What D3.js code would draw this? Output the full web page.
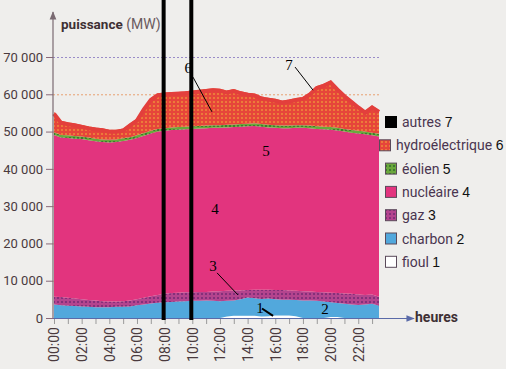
<!DOCTYPE html>
<html>
<head>
<meta charset="utf-8">
<script src="https://cdn.jsdelivr.net/npm/d3@7"></script>
<style>
  body { margin: 0; background: #efeeec; }
  svg { display: block; font-family: Roboto, sans-serif; }
</style>
</head>
<body>
<svg></svg>
<script>
// half-hour steps, 00:00 -> 23:30
var hours = d3.range(0, 24, 0.5);

// MW per source
var fioul = [0,0,0,0,0,0,0,0,0,0, 0,0,0,0,0,0,0,0,0,0, 0,0,0,0,0,400,600,600,600,600,
  400,500,700,700,700,500,0,0,0,0, 300,300,0,0,0,0,0,0];
var charbon = [3600,3400,3300,3200,3100,3000,2900,2900,2900,3000, 3000,3100,3400,3600,3900,4100,4200,4300,4400,4500,
  4600,4600,4700,4600,4500,4200,4100,4400,4900,4700, 4700,4700,4300,4200,4200,4300,4700,4700,4600,4400,
  3900,3700,3800,3600,3500,3600,3800,3300];
var gaz = [2100,2200,2100,2000,1900,1800,1800,1600,1500,1400, 1500,1600,1600,1800,1900,2100,2300,2400,2400,2400,
  2300,2400,2300,2500,2700,2700,2700,2400,2000,2300, 2500,2400,2500,2600,2500,2500,2500,2400,2400,2500,
  2600,2700,2800,2900,2800,2600,2500,2400];
var nucleaire = [43400,42800,42900,42900,43000,42900,42700,42700,42700,42800, 43000,43100,43300,43500,43700,43800,43700,43700,43700,43700,
  43800,43800,43900,43900,43800,43800,43800,43900,43900,43900, 43700,43500,43500,43400,43500,43700,43800,43800,43700,43700,
  43700,43600,43400,43200,43200,43100,42700,43000];
var eolien = [700,700,700,700,700,700,700,700,700,700, 700,700,700,700,700,700,700,700,700,700,
  700,700,700,700,700,700,700,700,700,700, 700,700,700,700,700,700,700,700,700,700,
  700,700,700,700,700,700,700,700];
var hydro = [5500,3800,3500,3400,3100,3000,3000,3000,2700,2600, 2600,3700,4500,6900,8800,9600,9600,9500,9500,9500,
  9600,9700,9800,9900,9800,9200,9500,8800,8300,8000, 7400,7300,7100,6700,7000,7300,7600,8900,10800,11500,
  12500,10800,9300,8100,6800,5600,7300,6400];
var autres = [0,0,0,0,0,0,0,0,0,0, 0,0,0,0,0,0,0,0,0,0, 0,0,0,0,0,0,0,0,0,0,
  0,0,0,0,0,0,0,0,0,0, 0,0,0,0,0,0,0,0];

var yTicks = [0, 10000, 20000, 30000, 40000, 50000, 60000, 70000];
var xTickLabels = ["00:00","02:00","04:00","06:00","08:00","10:00","12:00","14:00","16:00","18:00","20:00","22:00"];

var sources = [
  {key: 'fioul', label: 'fioul', num: 1, values: fioul, fill: '#ffffff'},
  {key: 'charbon', label: 'charbon', num: 2, values: charbon, fill: '#52a8dc'},
  {key: 'gaz', label: 'gaz', num: 3, values: gaz, fill: 'url(#pat-gaz)'},
  {key: 'nucleaire', label: 'nucléaire', num: 4, values: nucleaire, fill: '#e2347e'},
  {key: 'eolien', label: 'éolien', num: 5, values: eolien, fill: 'url(#pat-eol)'},
  {key: 'hydro', label: 'hydroélectrique', num: 6, values: hydro, fill: 'url(#pat-hydro)'},
  {key: 'autres', label: 'autres', num: 7, values: autres, fill: '#000000'}
];

var notes = [
  {t: '6', h: 9.7, v: 67000, line: [[10.05, 64600], [11.42, 55300]]},
  {t: '7', h: 17.0, v: 67800, line: [[17.43, 67300], [18.73, 61100]]},
  {t: '5', h: 15.33, v: 44800},
  {t: '4', h: 11.64, v: 29200},
  {t: '3', h: 11.5, v: 13900, line: [[11.79, 12100], [13.3, 6200]]},
  {t: '1', h: 14.9, v: 2800, line: [[15.04, 2550], [15.84, 550]], thick: true},
  {t: '2', h: 19.6, v: 2400}
];

var width = 506, height = 369;

var svg = d3.select('svg')
    .attr('width', width)
    .attr('height', height);

svg.append('rect')
    .attr('width', width).attr('height', height)
    .attr('fill', '#efeeec');

var defs = svg.append('defs');

function dotPattern(id, base, dot) {
  var p = defs.append('pattern')
      .attr('id', id)
      .attr('patternUnits', 'userSpaceOnUse')
      .attr('width', 4).attr('height', 4);
  p.append('rect').attr('width', 4).attr('height', 4).attr('fill', base);
  p.append('rect').attr('x', 1).attr('y', 1).attr('width', 2).attr('height', 2).attr('fill', dot);
}
dotPattern('pat-hydro', '#e6453a', '#ec7a3a');
dotPattern('pat-gaz', '#b4448e', '#84307a');
dotPattern('pat-eol', '#6aa83c', '#3f7a30');

var marker = defs.append('marker')
    .attr('id', 'arrow')
    .attr('viewBox', '0 0 10 10')
    .attr('refX', 9).attr('refY', 5)
    .attr('markerWidth', 7).attr('markerHeight', 7)
    .attr('orient', 'auto-start-reverse');
marker.append('path').attr('d', 'M0,1 L10,5 L0,9 z').attr('fill', 'context-stroke');

var xScale = d3.scaleLinear()
    .domain([0, 23.5])
    .range([54, 379]);

var yScale = d3.scaleLinear()
    .domain([0, 70000])
    .range([318, 57]);

// grid lines behind the areas
svg.append('g')
  .selectAll('line')
  .data(yTicks.slice(1))
  .enter().append('line')
    .attr('x1', 53).attr('x2', 380)
    .attr('y1', function(d) { return yScale(d) + 0.5; })
    .attr('y2', function(d) { return yScale(d) + 0.5; })
    .attr('stroke', function(d) { return d === 70000 ? '#9a8cc8' : '#e8a070'; })
    .attr('stroke-width', 1)
    .attr('stroke-dasharray', '2,2');

var table = hours.map(function(h, i) {
  var row = {h: h};
  sources.forEach(function(s) { row[s.key] = s.values[i]; });
  return row;
});

var stack = d3.stack().keys(sources.map(function(s) { return s.key; }));
var layers = stack(table);

var area = d3.area()
    .x(function(d) { return xScale(d.data.h); })
    .y0(function(d) { return yScale(d[0]); })
    .y1(function(d) { return yScale(d[1]); });

svg.append('g')
  .selectAll('path')
  .data(layers)
  .enter().append('path')
    .attr('d', area)
    .attr('fill', function(d, i) { return sources[i].fill; });

// solid red rim along the top of the hydro layer
var hydroLayer = layers[5];
svg.append('path')
    .attr('d', d3.line()
      .x(function(d) { return xScale(d.data.h); })
      .y(function(d) { return yScale(d[1]) + 2; })(hydroLayer))
    .attr('fill', 'none')
    .attr('stroke', '#e33f3c')
    .attr('stroke-width', 4);

// y axis
var yAxis = svg.append('g')
    .attr('transform', 'translate(53,0)')
    .call(d3.axisLeft(yScale)
      .tickValues(yTicks)
      .tickSize(7)
      .tickFormat(function(d) { return d3.format(',')(d).replace(',', ' '); }));
yAxis.select('.domain').remove();
yAxis.selectAll('line').attr('stroke', '#8a6a7a');
yAxis.selectAll('text')
    .attr('fill', '#4a3a3e')
    .style('font-size', '13px')
    .style('font-family', 'Roboto, sans-serif');

svg.append('line')
    .attr('x1', 53).attr('x2', 53)
    .attr('y1', 318).attr('y2', 12)
    .attr('stroke', '#7a6a72')
    .attr('stroke-width', 1.2)
    .attr('marker-end', 'url(#arrow)');

// x axis
var xAxis = svg.append('g')
    .attr('transform', 'translate(0,318)')
    .call(d3.axisBottom(xScale)
      .tickValues(d3.range(0, 24))
      .tickSize(6)
      .tickFormat(function(h) { return h % 2 ? '' : xTickLabels[h / 2]; }));
xAxis.select('.domain').remove();
xAxis.selectAll('line').attr('stroke', '#9a9a9a');
xAxis.selectAll('text')
    .attr('transform', 'rotate(-90)')
    .attr('x', -9)
    .attr('y', 0)
    .attr('dy', '0.35em')
    .style('text-anchor', 'end')
    .attr('fill', '#4a3a3e')
    .style('font-size', '14px')
    .style('font-family', 'Roboto, sans-serif');

svg.append('line')
    .attr('x1', 53).attr('x2', 414)
    .attr('y1', 318.5).attr('y2', 318.5)
    .attr('stroke', '#5a6aa8')
    .attr('stroke-width', 1.2)
    .attr('marker-end', 'url(#arrow)');

svg.append('text')
    .attr('x', 415).attr('y', 322)
    .attr('fill', '#3e3034')
    .style('font-size', '14px')
    .style('font-weight', 'bold')
    .text('heures');

var title = svg.append('text')
    .attr('x', 61).attr('y', 29)
    .style('font-size', '13.5px');
title.append('tspan').attr('fill', '#3e3034').style('font-weight', 'bold').text('puissance');
title.append('tspan').attr('fill', '#6a5a5e').style('font-size', '14px').text(' (MW)');

// black marker bars at 08:00 and 10:00
svg.append('g')
  .selectAll('line')
  .data([8, 10])
  .enter().append('line')
    .attr('x1', function(d) { return xScale(d) - 1; })
    .attr('x2', function(d) { return xScale(d) - 1; })
    .attr('y1', 0).attr('y2', 320)
    .attr('stroke', '#000')
    .attr('stroke-width', 4);

// numbered notes
var noteG = svg.append('g');
notes.forEach(function(n) {
  if (n.line) {
    noteG.append('line')
        .attr('x1', xScale(n.line[0][0])).attr('y1', yScale(n.line[0][1]))
        .attr('x2', xScale(n.line[1][0])).attr('y2', yScale(n.line[1][1]))
        .attr('stroke', '#000')
        .attr('stroke-width', n.thick ? 2 : 1);
  }
  noteG.append('text')
      .attr('x', xScale(n.h)).attr('y', yScale(n.v))
      .attr('dy', '0.35em')
      .attr('text-anchor', 'middle')
      .style('font-family', '"Liberation Serif", serif')
      .style('font-size', '15px')
      .attr('fill', '#000')
      .text(n.t);
});

// legend, top to bottom
var legend = svg.append('g');
var legendItems = sources.slice().reverse();
legendItems.forEach(function(s, i) {
  var cy = 122 + i * 23.3;
  var sx = s.key === 'hydro' ? 379 : 385;
  var row = legend.append('g');
  row.append('rect')
      .attr('x', sx + 0.5).attr('y', cy - 5.5)
      .attr('width', 11).attr('height', 11)
      .attr('fill', s.fill)
      .attr('stroke', s.key === 'autres' ? '#000' : '#5a4a5a')
      .attr('stroke-width', 1);
  var t = row.append('text')
      .attr('x', sx + 17).attr('y', cy + 5)
      .style('font-size', '14px');
  t.append('tspan').attr('fill', '#4a3550').text(s.label + ' ');
  t.append('tspan').attr('fill', '#111')
      .style('font-family', '"Liberation Sans", sans-serif')
      .text(s.num);
});
</script>
</body>
</html>
